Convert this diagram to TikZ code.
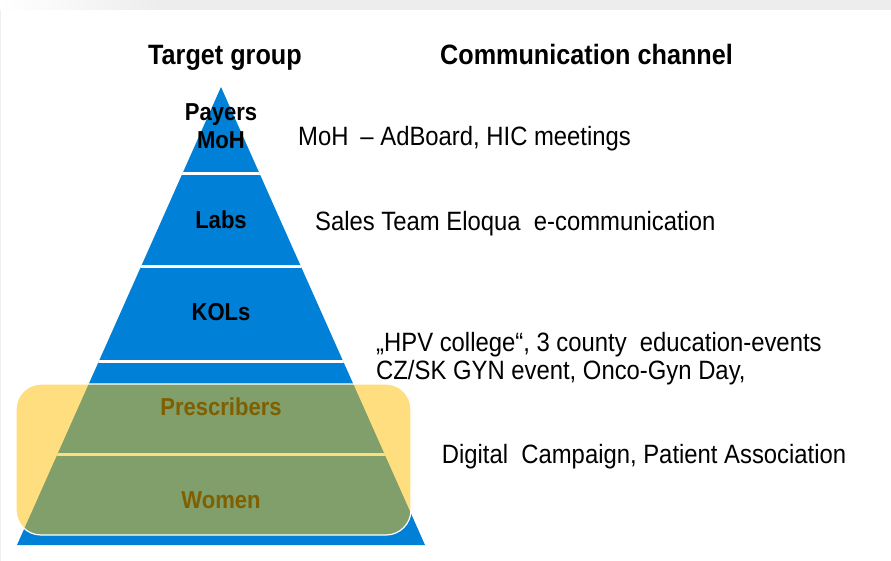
\documentclass[tikz,border=0pt]{standalone}
\usepackage{fontspec}
\setmainfont{Liberation Sans}[FakeStretch=0.9]
\usepackage{xcolor}
\usepackage{tikz}
\usetikzlibrary{positioning,calc}

\definecolor{pyrblue}{RGB}{0,128,214}
\definecolor{focusgold}{RGB}{255,190,0}

\begin{document}
\begin{tikzpicture}[x=1pt,y=-1pt,
    header/.style={font=\fontsize{28}{32}\selectfont\bfseries, anchor=base west, inner sep=0pt},
    grouplabel/.style={font=\fontsize{24.5}{28}\selectfont\bfseries, anchor=base, inner sep=0pt},
    channel/.style={font=\fontsize{26.5}{30}\selectfont, anchor=base west, inner sep=0pt},
    focusbox/.style={draw=white, line width=1.2pt, fill=focusgold, fill opacity=0.5,
        rounded corners=25pt, minimum width=395pt, minimum height=151pt, inner sep=0pt}]
    \useasboundingbox (0,0) rectangle (891,561);

    % Screen strip
    \shade[left color=white, right color=black!7] (0,0) rectangle (160,10);
    \fill[black!7] (160,0) rectangle (891,10);
    \draw[black!6, line width=1pt] (0.5,10) -- (0.5,561);

    % Headers
    \node[header] (tg) at (148,65) {Target group};
    \node[header] (cc) at (440,65) {Communication channel};

    % Pyramid
    \coordinate (apex) at (221,87);
    \coordinate (bl) at (17,545);
    \coordinate (br) at (425,545);
    \fill[pyrblue] (apex) -- (br) -- (bl) -- cycle;
    \begin{scope}
        \clip (apex) -- (br) -- (bl) -- cycle;
        \foreach \y in {174,267,361,454} \draw[white, line width=3pt] (0,\y) -- (450,\y);
    \end{scope}

    % Target groups
    \node[grouplabel] (payers) at (221,121) {Payers};
    \node[grouplabel] (moh) at (221,148.3) {MoH};
    \node[grouplabel] (labs) at (221,228.3) {Labs};
    \node[grouplabel] (kols) at (221,320.7) {KOLs};
    \node[grouplabel] (presc) at (221,415) {Prescribers};
    \node[grouplabel] (women) at (221,508) {Women};

    % Highlight over the lower layers
    \node[focusbox] (focus) at (213.5,459.5) {};

    % Channels
    \node[channel] (chmoh) at (298,145.7) {MoH\hspace{0.45em}– AdBoard, HIC meetings};
    \node[channel] (chlabs) at (315,230.7) {Sales Team Eloqua\ \ e-communication};
    \node[channel] (chkols) at (376,351.7) {„HPV college“, 3 county\ \ education-events};
    \node[channel] (chgyn) at (376,379.3) {CZ/SK GYN event, Onco-Gyn Day,};
    \node[channel] (chdig) at (441.7,463.3) {Digital\ \ Campaign, Patient\ Association};
\end{tikzpicture}
\end{document}
